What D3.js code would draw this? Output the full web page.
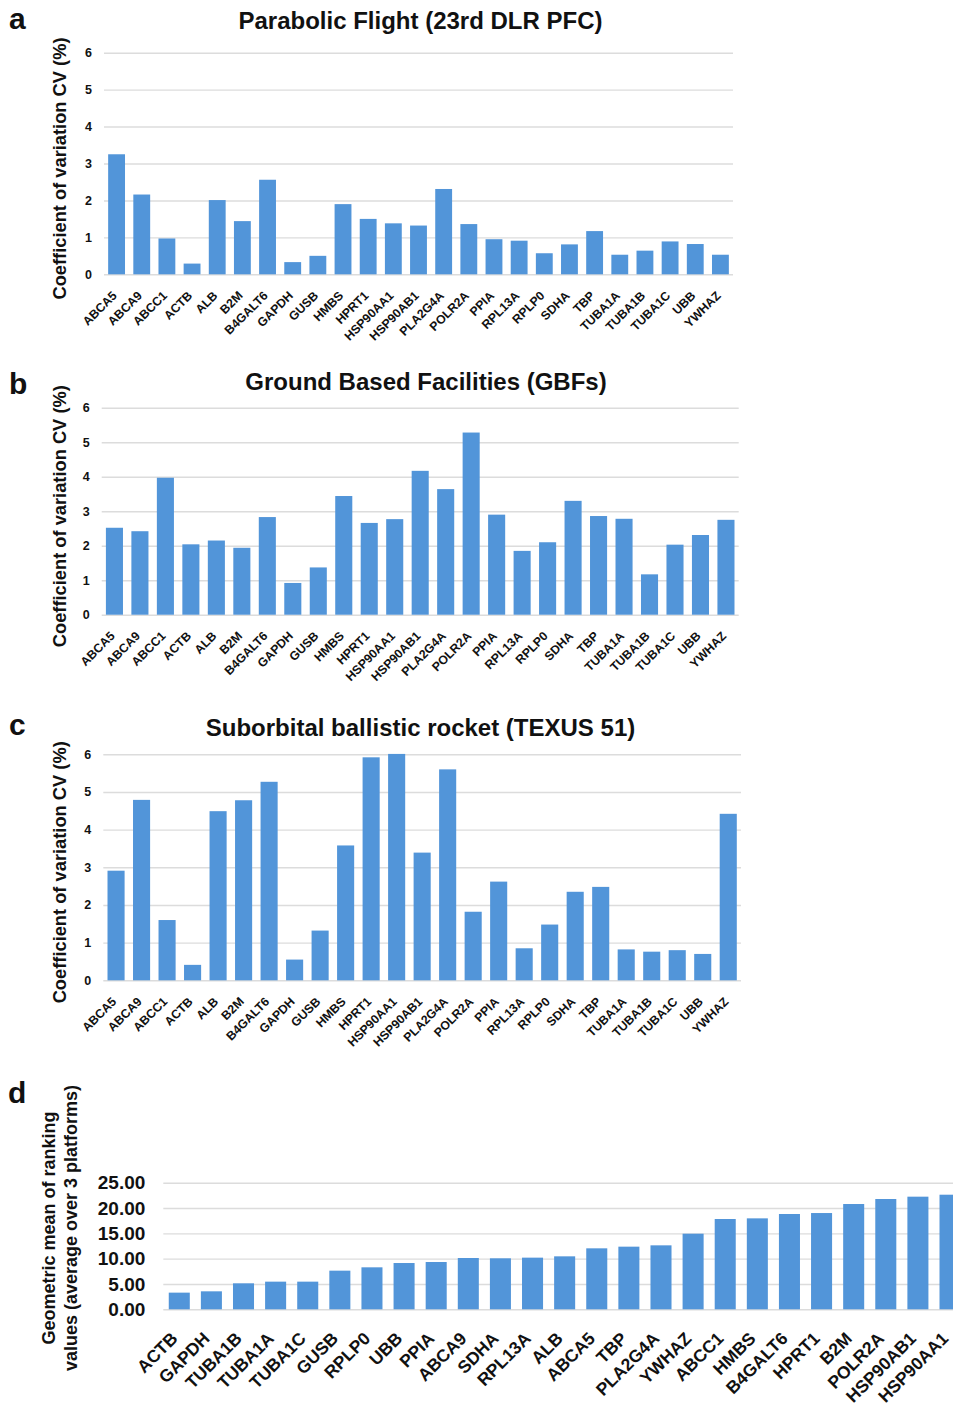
<!DOCTYPE html>
<html>
<head>
<meta charset="utf-8">
<script src="https://cdn.jsdelivr.net/npm/d3@7"></script>
<style>
  html, body { margin: 0; padding: 0; background: #fff; }
  svg { display: block; }
  text { font-family: "Liberation Sans", Arial, Helvetica, sans-serif; font-weight: bold; fill: #111; }
</style>
</head>
<body>
<svg id="fig" width="953" height="1412"></svg>
<script>
// Reference genes (alphabetical order, panels a–c)
const genes = ["ABCA5","ABCA9","ABCC1","ACTB","ALB","B2M","B4GALT6","GAPDH","GUSB","HMBS",
  "HPRT1","HSP90AA1","HSP90AB1","PLA2G4A","POLR2A","PPIA","RPL13A","RPLP0","SDHA","TBP",
  "TUBA1A","TUBA1B","TUBA1C","UBB","YWHAZ"];

// Coefficient of variation CV (%) per platform
const cvParabolic = [3.25,2.16,0.97,0.29,2.01,1.44,2.56,0.33,0.50,1.90,
  1.50,1.38,1.32,2.31,1.36,0.95,0.91,0.57,0.81,1.17,
  0.53,0.64,0.89,0.82,0.53];
const cvGround = [2.52,2.42,3.97,2.04,2.15,1.94,2.83,0.92,1.37,3.44,
  2.66,2.77,4.17,3.64,5.28,2.90,1.85,2.10,3.30,2.86,
  2.78,1.17,2.03,2.31,2.75];
const cvRocket = [2.91,4.79,1.60,0.41,4.49,4.78,5.27,0.55,1.32,3.58,
  5.92,6.01,3.39,5.60,1.82,2.62,0.85,1.48,2.35,2.48,
  0.82,0.76,0.80,0.70,4.42];
const cvTicks = [0,1,2,3,4,5,6];

// Panel d: geometric mean of rankings, sorted ascending
const rankGenes = ["ACTB","GAPDH","TUBA1B","TUBA1A","TUBA1C","GUSB","RPLP0","UBB","PPIA","ABCA9",
  "SDHA","RPL13A","ALB","ABCA5","TBP","PLA2G4A","YWHAZ","ABCC1","HMBS","B4GALT6",
  "HPRT1","B2M","POLR2A","HSP90AB1","HSP90AA1"];
const rankMean = [3.29,3.55,5.13,5.46,5.46,7.63,8.29,9.14,9.34,10.13,
  10.07,10.20,10.46,12.04,12.37,12.63,14.93,17.83,17.96,18.82,
  19.01,20.79,21.78,22.24,22.63];
const rankTicks = [0,5,10,15,20,25];

const BAR = "#5295d9";
const GRID = "#dcdcdc";
const FONT = '"Liberation Sans", Arial, sans-serif';

const svg = d3.select("#fig");

function cvPanel(cfg) {
  const g = svg.append("g");
  const x = d3.scaleBand().domain(genes).range([cfg.x0, cfg.x1])
    .paddingInner(0.33).paddingOuter(0.165);
  const y = d3.scaleLinear().domain([0, 6]).range([cfg.yBase, cfg.yTop]);

  // gridlines and tick labels
  const yAxis = d3.axisLeft(y).tickValues(cvTicks).tickFormat(d3.format("d"))
    .tickSize(-(cfg.x1 - cfg.x0)).tickPadding(12);
  const ya = g.append("g").attr("transform", `translate(${cfg.x0},0)`).call(yAxis);
  ya.select(".domain").remove();
  ya.selectAll(".tick line").attr("stroke", GRID).attr("stroke-width", 1.4);
  ya.selectAll(".tick text").attr("font-size", 12.5).attr("fill", "#111")
    .style("font-family", FONT).style("font-weight", "bold");

  // bars
  g.append("g").selectAll("rect").data(cfg.values).join("rect")
    .attr("x", (d, i) => x(genes[i]))
    .attr("width", x.bandwidth())
    .attr("y", d => y(d))
    .attr("height", d => y(0) - y(d))
    .attr("fill", BAR);

  // category labels
  const xAxis = d3.axisBottom(x).tickSize(0).tickPadding(0);
  const xa = g.append("g").attr("transform", `translate(0,${cfg.yBase})`).call(xAxis);
  xa.select(".domain").remove();
  xa.selectAll(".tick text")
    .attr("font-size", 12.3).attr("fill", "#111")
    .style("font-family", FONT).style("font-weight", "bold")
    .attr("text-anchor", "end")
    .attr("transform", "translate(-2,19) rotate(-45)")
    .attr("dy", "0.35em").attr("y", 0).attr("x", 0);

  // title, panel letter, y label
  g.append("text").attr("x", cfg.titleX).attr("y", cfg.titleY).attr("text-anchor", "middle")
    .attr("font-size", 24).text(cfg.title);
  g.append("text").attr("x", 9).attr("y", cfg.letterY).attr("font-size", 30).text(cfg.letter);
  g.append("text")
    .attr("transform", `translate(66,${(cfg.yBase + cfg.yTop) / 2 + 5}) rotate(-90)`)
    .attr("text-anchor", "middle").attr("font-size", 18.3)
    .text("Coefficient of variation CV (%)");
}

cvPanel({ values: cvParabolic, x0: 104, x1: 733, yBase: 274.3, yTop: 52.7,
  title: "Parabolic Flight (23rd DLR PFC)", titleX: 420.5, titleY: 29, letter: "a", letterY: 29 });
cvPanel({ values: cvGround, x0: 101.7, x1: 738.7, yBase: 614.7, yTop: 407.7,
  title: "Ground Based Facilities (GBFs)", titleX: 426, titleY: 390, letter: "b", letterY: 394 });
cvPanel({ values: cvRocket, x0: 103.3, x1: 741, yBase: 980.3, yTop: 754.3,
  title: "Suborbital ballistic rocket (TEXUS 51)", titleX: 420.5, titleY: 736, letter: "c", letterY: 735 });

// Panel d
(function () {
  const g = svg.append("g");
  const x0 = 163.3, x1 = 966, yBase = 1309.3, yTop = 1182.7;
  const x = d3.scaleBand().domain(rankGenes).range([x0, x1])
    .paddingInner(0.345).paddingOuter(0.17);
  const y = d3.scaleLinear().domain([0, 25]).range([yBase, yTop]);

  const yAxis = d3.axisLeft(y).tickValues(rankTicks).tickSize(-(x1 - x0)).tickPadding(18)
    .tickFormat(d3.format(".2f"));
  const ya = g.append("g").attr("transform", `translate(${x0},0)`).call(yAxis);
  ya.select(".domain").remove();
  ya.selectAll(".tick line").attr("stroke", GRID).attr("stroke-width", 1.4);
  ya.selectAll(".tick text").attr("font-size", 19).attr("fill", "#111")
    .style("font-family", FONT).style("font-weight", "bold");

  g.append("g").selectAll("rect").data(rankMean).join("rect")
    .attr("x", (d, i) => x(rankGenes[i]))
    .attr("width", x.bandwidth())
    .attr("y", d => y(d))
    .attr("height", d => y(0) - y(d))
    .attr("fill", BAR);

  const xAxis = d3.axisBottom(x).tickSize(0).tickPadding(0);
  const xa = g.append("g").attr("transform", `translate(0,${yBase})`).call(xAxis);
  xa.select(".domain").remove();
  xa.selectAll(".tick text")
    .attr("font-size", 17.5).attr("fill", "#111")
    .style("font-family", FONT).style("font-weight", "bold")
    .attr("text-anchor", "end")
    .attr("transform", "translate(-5,26) rotate(-45)")
    .attr("dy", "0.35em").attr("y", 0).attr("x", 0);

  g.append("text").attr("x", 8).attr("y", 1103).attr("font-size", 30).text("d");
  const lab = g.append("text")
    .attr("transform", `translate(0,1228) rotate(-90)`)
    .attr("text-anchor", "middle").attr("font-size", 18);
  lab.append("tspan").attr("x", 0).attr("y", 55).text("Geometric mean of ranking");
  lab.append("tspan").attr("x", 0).attr("y", 77).text("values (average over 3 platforms)");
})();
</script>
</body>
</html>
